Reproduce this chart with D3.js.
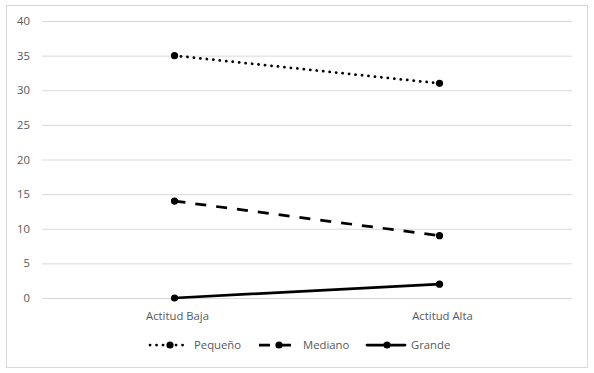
<!DOCTYPE html>
<html>
<head>
<meta charset="utf-8">
<script src="https://cdn.jsdelivr.net/npm/d3@7"></script>
<style>
  body { margin: 0; background: #fff; }
  text { font-family: "Open Sans", Calibri, sans-serif; fill: #595959; }
</style>
</head>
<body>
<svg width="594" height="373"></svg>
<script>
const categories = ["Actitud Baja", "Actitud Alta"];
const seriesNames = ["Pequeño", "Mediano", "Grande"];
const pequeno = [35, 31];
const mediano = [14, 9];
const grande = [0, 2];
const yTicks = [0, 5, 10, 15, 20, 25, 30, 35, 40];

const series = [
  { name: seriesNames[0], values: pequeno, dash: "0.1 6.4", cap: "round" },
  { name: seriesNames[1], values: mediano, dash: "11 10", cap: "butt" },
  { name: seriesNames[2], values: grande, dash: null, cap: "round" }
];

const fontSize = 11.3;
const svg = d3.select("svg");

// chart area border
svg.append("rect")
  .attr("x", 6.5).attr("y", 5.5)
  .attr("width", 581).attr("height", 362)
  .attr("fill", "#fff")
  .attr("stroke", "#d9d9d9");

const plotLeft = 42, plotRight = 572, plotTop = 21, plotBottom = 298;

const x = d3.scaleBand().domain(categories).range([plotLeft, plotRight]);
const y = d3.scaleLinear().domain([0, 40]).range([plotBottom, plotTop]);

// gridlines
svg.append("g").selectAll("line")
  .data(yTicks)
  .join("line")
  .attr("x1", plotLeft).attr("x2", plotRight)
  .attr("y1", d => y(d) + 0.5).attr("y2", d => y(d) + 0.5)
  .attr("stroke", "#d9d9d9")
  .attr("stroke-width", 1);

// y labels
svg.append("g").selectAll("text")
  .data(yTicks)
  .join("text")
  .attr("x", 30)
  .attr("y", d => y(d) + 4)
  .attr("text-anchor", "end")
  .attr("font-size", fontSize)
  .text(d => d);

// x labels
svg.append("g").selectAll("text")
  .data(categories)
  .join("text")
  .attr("x", d => x(d) + x.bandwidth() / 2 + 3)
  .attr("y", 320)
  .attr("text-anchor", "middle")
  .attr("font-size", fontSize)
  .text(d => d);

const line = d3.line()
  .x((d, i) => x(categories[i]) + x.bandwidth() / 2)
  .y(d => y(d));

series.forEach(s => {
  svg.append("path")
    .attr("d", line(s.values))
    .attr("fill", "none")
    .attr("stroke", "#000")
    .attr("stroke-width", 2.75)
    .attr("stroke-linecap", s.cap)
    .attr("stroke-dasharray", s.dash);
  svg.append("g").selectAll("circle")
    .data(s.values)
    .join("circle")
    .attr("cx", (d, i) => x(categories[i]) + x.bandwidth() / 2)
    .attr("cy", d => y(d))
    .attr("r", 3.6)
    .attr("fill", "#000");
});

// legend
const legendX = [150, 259, 367];
const legend = svg.append("g");
series.forEach((s, i) => {
  const g = legend.append("g").attr("transform", `translate(${legendX[i]},345)`);
  g.append("line")
    .attr("x1", 0).attr("x2", 38)
    .attr("stroke", "#000")
    .attr("stroke-width", 2.75)
    .attr("stroke-linecap", s.cap)
    .attr("stroke-dasharray", s.dash);
  g.append("circle").attr("cx", 20).attr("r", 3.6).attr("fill", "#000");
  g.append("text")
    .attr("x", 44).attr("y", 4)
    .attr("font-size", fontSize)
    .text(s.name);
});
</script>
</body>
</html>
